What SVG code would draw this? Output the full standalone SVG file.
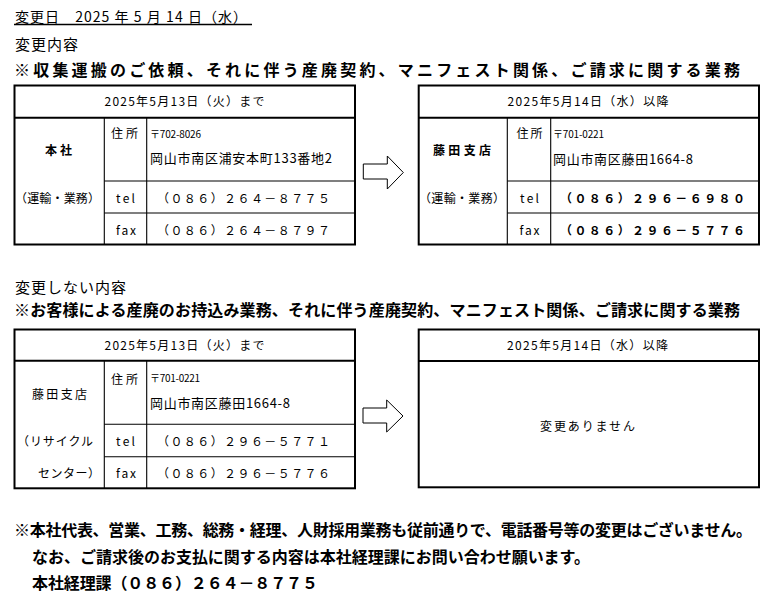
<svg xmlns="http://www.w3.org/2000/svg" width="777" height="596" viewBox="0 0 777 596">
<style>
text{font-family:"Noto Sans CJK JP","Liberation Sans",sans-serif;fill:#000;}
.t12{font-size:12px;}
.t10{font-size:10px;}
.t13{font-size:13px;}
.b{font-weight:bold;}
.m{text-anchor:middle;}
.outer{fill:#fff;stroke:#000;stroke-width:2;}
.thick{stroke:#000;stroke-width:2;}
.thin{stroke:#000;stroke-width:1.1;}
.arrow{fill:#fff;stroke:#000;stroke-width:1;stroke-linejoin:miter;}
</style>
<rect width="777" height="596" fill="#fff"/>

<g id="headings">
<text x="15" y="22" font-size="14" textLength="232" lengthAdjust="spacing">変更日　2025 年 5 月 14 日（水）</text>
<line x1="14" y1="24.5" x2="252" y2="24.5" stroke="#000" stroke-width="1.3"/>
<text x="15" y="49.5" font-size="15" textLength="63" lengthAdjust="spacing">変更内容</text>
<text x="14" y="76" font-size="16" class="b" textLength="726" lengthAdjust="spacing">※収集運搬のご依頼、それに伴う産廃契約、マニフェスト関係、ご請求に関する業務</text>
<text x="15" y="293" font-size="15" textLength="111" lengthAdjust="spacing">変更しない内容</text>
<text x="14" y="316" font-size="16" class="b" textLength="726" lengthAdjust="spacing">※お客様による産廃のお持込み業務、それに伴う産廃契約、マニフェスト関係、ご請求に関する業務</text>
</g>

<g id="table-before-1">
<rect class="outer" x="14.5" y="85.5" width="340.5" height="159"/>
<line class="thick" x1="14.5" y1="117.7" x2="355" y2="117.7"/>
<line class="thin" x1="104.3" y1="117.7" x2="104.3" y2="244.5"/>
<line class="thin" x1="146.7" y1="117.7" x2="146.7" y2="244.5"/>
<line class="thin" x1="104.3" y1="181" x2="355" y2="181"/>
<line class="thin" x1="104.3" y1="213" x2="355" y2="213"/>
<text class="t12 m" x="184.5" y="105.5" textLength="160" lengthAdjust="spacing">2025年5月13日（火）まで</text>
<text class="t12 m b" x="58.5" y="154.5" textLength="27" lengthAdjust="spacing">本社</text>
<text class="t12" x="15" y="202.5" textLength="85" lengthAdjust="spacing">（運輸・業務）</text>
<text class="t12" x="111" y="137.5" textLength="27" lengthAdjust="spacing">住所</text>
<text class="t10" x="150" y="137.5" textLength="51" lengthAdjust="spacing">〒702-8026</text>
<text class="t13" x="150" y="163" textLength="182" lengthAdjust="spacing">岡山市南区浦安本町133番地2</text>
<text class="t12" x="116" y="202.5" textLength="19" lengthAdjust="spacing">tel</text>
<text class="t12" x="116" y="234.5" textLength="20" lengthAdjust="spacing">fax</text>
<text class="t12" x="157" y="202.5" textLength="173" lengthAdjust="spacing">（０８６）２６４－８７７５</text>
<text class="t12" x="157" y="234.5" textLength="173" lengthAdjust="spacing">（０８６）２６４－８７９７</text>
</g>

<g id="table-after-1">
<rect class="outer" x="418.7" y="85.5" width="340.3" height="159"/>
<line class="thick" x1="418.7" y1="117.7" x2="759" y2="117.7"/>
<line class="thin" x1="507.3" y1="117.7" x2="507.3" y2="244.5"/>
<line class="thin" x1="550.7" y1="117.7" x2="550.7" y2="244.5"/>
<line class="thin" x1="507.3" y1="181" x2="759" y2="181"/>
<line class="thin" x1="507.3" y1="213" x2="759" y2="213"/>
<text class="t12 m" x="588" y="105.5" textLength="161" lengthAdjust="spacing">2025年5月14日（水）以降</text>
<text class="t12 m b" x="462" y="154.5" textLength="58" lengthAdjust="spacing">藤田支店</text>
<text class="t12" x="419" y="202.5" textLength="86" lengthAdjust="spacing">（運輸・業務）</text>
<text class="t12" x="516.5" y="137.5" textLength="26" lengthAdjust="spacing">住所</text>
<text class="t10" x="553" y="137.5" textLength="51" lengthAdjust="spacing">〒701-0221</text>
<text class="t13" x="553" y="163.5" textLength="140" lengthAdjust="spacing">岡山市南区藤田1664-8</text>
<text class="t12" x="520" y="202.5" textLength="19" lengthAdjust="spacing">tel</text>
<text class="t12" x="519.5" y="234.5" textLength="20" lengthAdjust="spacing">fax</text>
<text class="t12 b" x="560" y="202.5" textLength="185" lengthAdjust="spacing">（０８６）２９６－６９８０</text>
<text class="t12 b" x="560" y="234.5" textLength="185" lengthAdjust="spacing">（０８６）２９６－５７７６</text>
</g>

<g id="table-before-2">
<rect class="outer" x="14.5" y="329.5" width="340.5" height="158.8"/>
<line class="thick" x1="14.5" y1="360.7" x2="355" y2="360.7"/>
<line class="thin" x1="104.3" y1="360.7" x2="104.3" y2="488.3"/>
<line class="thin" x1="146.7" y1="360.7" x2="146.7" y2="488.3"/>
<line class="thin" x1="104.3" y1="424.3" x2="355" y2="424.3"/>
<line class="thin" x1="104.3" y1="456.7" x2="355" y2="456.7"/>
<text class="t12 m" x="184.5" y="349.5" textLength="160" lengthAdjust="spacing">2025年5月13日（火）まで</text>
<text class="t12 m" x="59.5" y="398.5" textLength="55" lengthAdjust="spacing">藤田支店</text>
<text class="t12" x="17" y="446" textLength="76" lengthAdjust="spacing">（リサイクル</text>
<text class="t12" x="38" y="477.5" textLength="62" lengthAdjust="spacing">センター）</text>
<text class="t12" x="111" y="383.5" textLength="27" lengthAdjust="spacing">住所</text>
<text class="t10" x="150" y="381.5" textLength="50" lengthAdjust="spacing">〒701-0221</text>
<text class="t13" x="150" y="407.5" textLength="140" lengthAdjust="spacing">岡山市南区藤田1664-8</text>
<text class="t12" x="116" y="446" textLength="19" lengthAdjust="spacing">tel</text>
<text class="t12" x="116" y="477.5" textLength="20" lengthAdjust="spacing">fax</text>
<text class="t12" x="157" y="446" textLength="173" lengthAdjust="spacing">（０８６）２９６－５７７１</text>
<text class="t12" x="157" y="477.5" textLength="173" lengthAdjust="spacing">（０８６）２９６－５７７６</text>
</g>

<g id="table-after-2">
<rect class="outer" x="418.7" y="329.5" width="340.3" height="157.8"/>
<line class="thick" x1="418.7" y1="361" x2="759" y2="361"/>
<text class="t12 m" x="587.5" y="349.5" textLength="161" lengthAdjust="spacing">2025年5月14日（水）以降</text>
<text class="t12 m" x="587.5" y="430.5" textLength="95" lengthAdjust="spacing">変更ありません</text>
</g>

<g id="connectors">
<polygon class="arrow" points="363.3,164 387.3,164 387.3,156 403.3,172.5 387.3,189 387.3,179 363.3,179"/>
<polygon class="arrow" points="363,408 386.7,408 386.7,400 403,416 386.7,432 386.7,423 363,423"/>
</g>

<g id="notes">
<text x="14" y="536" font-size="16" class="b" textLength="738" lengthAdjust="spacing">※本社代表、営業、工務、総務・経理、人財採用業務も従前通りで、電話番号等の変更はございません。</text>
<text x="32" y="563" font-size="16" class="b" textLength="558" lengthAdjust="spacing">なお、ご請求後のお支払に関する内容は本社経理課にお問い合わせ願います。</text>
<text x="32" y="589" font-size="16" class="b" textLength="286" lengthAdjust="spacing">本社経理課（０８６）２６４－８７７５</text>
</g>
</svg>
